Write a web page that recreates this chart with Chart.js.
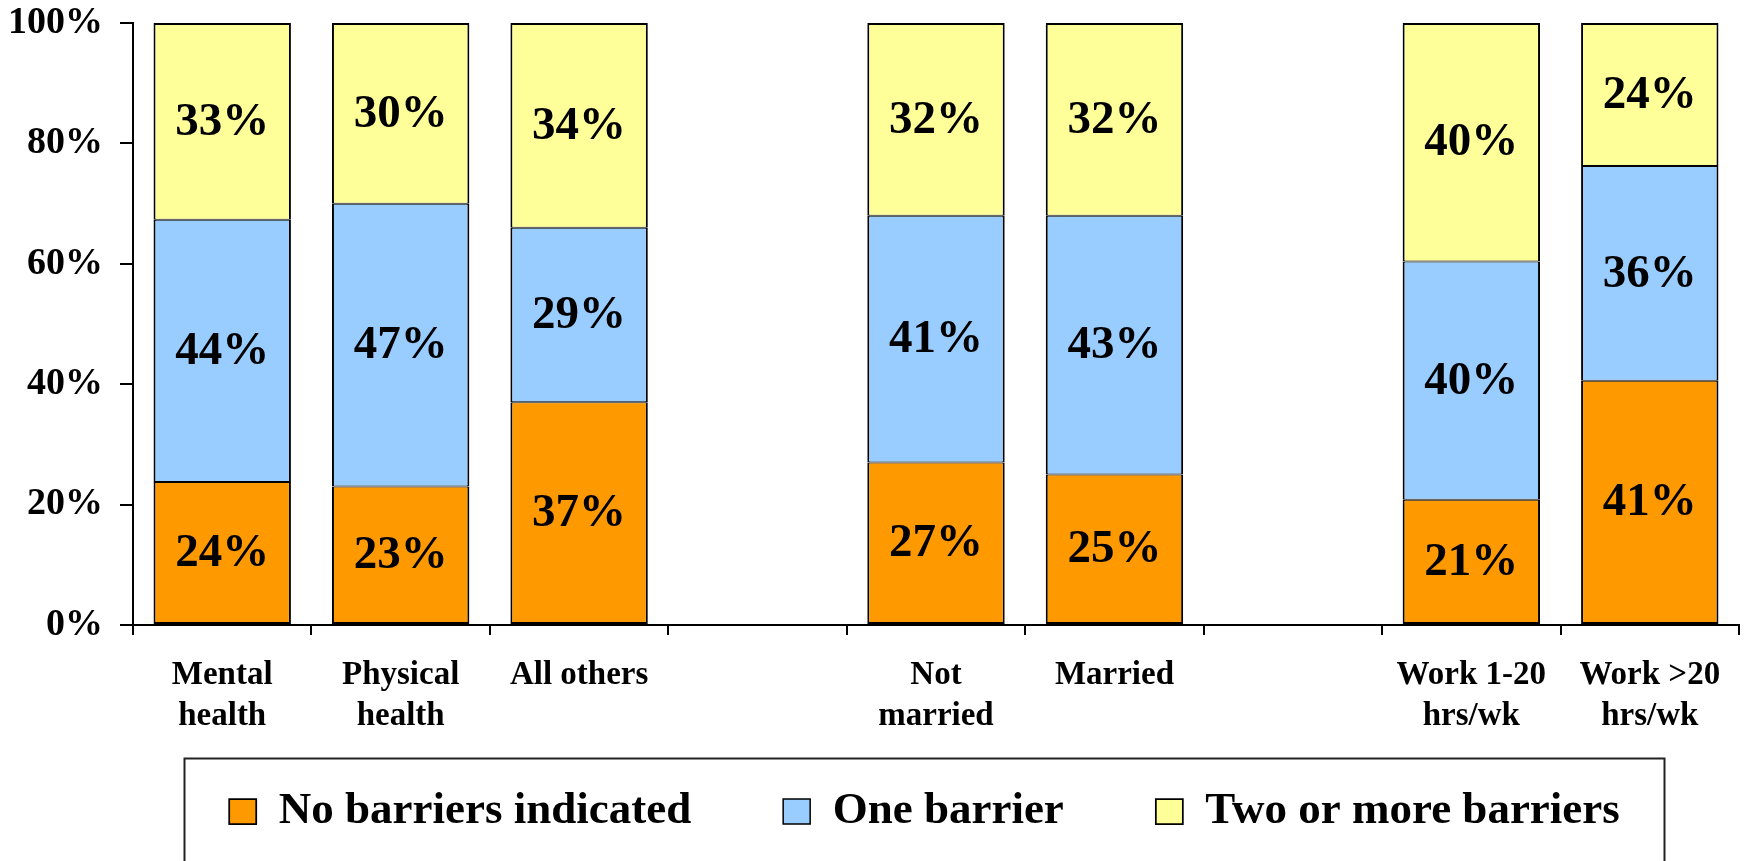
<!DOCTYPE html>
<html>
<head>
<meta charset="utf-8">
<title>Barriers by group</title>
<script src="https://cdn.jsdelivr.net/npm/chart.js@4/dist/chart.umd.min.js"></script>
<style>
    html, body { margin: 0; padding: 0; background: #ffffff; }
    #wrap { width: 1747px; height: 861px; }
</style>
</head>
<body>
<div id="wrap">
    <canvas id="barrierChart" width="1747" height="861"></canvas>
</div>

<script>
// --------------------
// Data (percent labels as printed on the bars)
// --------------------
const categories = [
    ["Mental", "health"],
    ["Physical", "health"],
    "All others",
    "",
    ["Not", "married"],
    "Married",
    "",
    ["Work 1-20", "hrs/wk"],
    ["Work >20", "hrs/wk"]
];

const seriesNames = ["No barriers indicated", "One barrier", "Two or more barriers"];

const noBarriers = [24, 23, 37, null, 27, 25, null, 21, 41];
const oneBarrier = [44, 47, 29, null, 41, 43, null, 40, 36];
const twoOrMore = [33, 30, 34, null, 32, 32, null, 40, 24];

const yTicks = [0, 20, 40, 60, 80, 100];

const colors = ["#FF9900", "#99CCFF", "#FFFF99"];
const FONT = "'Liberation Serif', 'Times New Roman', serif";

// --------------------
// 100% stacked: scale each column to its own total
// --------------------
const seriesPct = [noBarriers, oneBarrier, twoOrMore];

function toShare(values) {
    return values.map((v, i) => {
        if (v === null) return null;
        const total = seriesPct.reduce((s, arr) => s + arr[i], 0);
        return v / total * 100;
    });
}

// borders: 2px outline, 2px line between stacked segments
const borders = [
    { top: 1, bottom: 2, left: 2, right: 2 },
    { top: 1, bottom: 1, left: 2, right: 2 },
    { top: 2, bottom: 1, left: 2, right: 2 }
];

// --------------------
// Plugins
// --------------------
const LEGEND_SHIFT = 50;
const LEGEND_FONT = 45;

const barLabels = {
    id: "barLabels",
    afterDatasetsDraw(chart) {
        const ctx = chart.ctx;
        ctx.save();
        ctx.font = "bold 47px " + FONT;
        ctx.fillStyle = "#000";
        ctx.textAlign = "center";
        ctx.textBaseline = "middle";
        chart.data.datasets.forEach((ds, i) => {
            const meta = chart.getDatasetMeta(i);
            meta.data.forEach((bar, j) => {
                const v = seriesPct[i][j];
                if (v === null) return;
                ctx.fillText(v + "%", bar.x, (bar.y + bar.base) / 2 + 1);
            });
        });
        ctx.restore();
    }
};

const legendFrame = {
    id: "legendFrame",
    afterLayout(chart) {
        // legend sits a little right of the canvas centre
        chart.legend.left += LEGEND_SHIFT;
        chart.legend.right += LEGEND_SHIFT;
        // let the two-line category labels run below the (short) x scale box
        chart.scales.x.bottom += 90;
    },
    afterDraw(chart) {
        const lg = chart.legend;
        const ctx = chart.ctx;
        const cx = (lg.left + lg.right) / 2;
        const midY = lg.top + lg.options.labels.padding + LEGEND_FONT / 2;
        ctx.save();
        ctx.strokeStyle = "#222";
        ctx.lineWidth = 2;
        ctx.strokeRect(cx - 740, midY - 53, 1480, 200);
        ctx.restore();
    }
};

// --------------------
// Chart
// --------------------
Chart.defaults.font.family = FONT;
Chart.defaults.color = "#000";

const ctx = document.getElementById("barrierChart").getContext("2d");

new Chart(ctx, {
    type: "bar",
    data: {
        labels: categories,
        datasets: seriesNames.map((name, i) => ({
            label: name,
            data: toShare(seriesPct[i]),
            backgroundColor: colors[i],
            borderColor: "#000",
            borderWidth: borders[i],
            borderSkipped: false,
            barPercentage: 0.77,
            categoryPercentage: 1.0
        }))
    },
    options: {
        responsive: false,
        animation: false,
        layout: {
            padding: { top: 0, left: 10, right: 8, bottom: 17 }
        },
        plugins: {
            tooltip: { enabled: false },
            legend: {
                position: "bottom",
                labels: {
                    font: { size: LEGEND_FONT, weight: "bold" },
                    color: "#000",
                    boxWidth: 27,
                    boxHeight: 25,
                    padding: 92
                }
            }
        },
        scales: {
            x: {
                stacked: true,
                border: { display: true, color: "#000", width: 2 },
                grid: {
                    offset: true,
                    drawOnChartArea: false,
                    drawTicks: true,
                    tickLength: 10,
                    color: "#000",
                    lineWidth: 2
                },
                ticks: {
                    font: { size: 33, weight: "bold", lineHeight: 1.25 },
                    color: "#000",
                    padding: 20,
                    maxRotation: 0,
                    autoSkip: false
                },
                afterFit(scale) {
                    scale.height = 72;
                }
            },
            y: {
                stacked: true,
                min: 0,
                max: 100,
                border: { display: true, color: "#000", width: 2 },
                grid: {
                    drawOnChartArea: false,
                    drawTicks: true,
                    tickLength: 13,
                    color: "#000",
                    lineWidth: 2
                },
                afterBuildTicks(scale) {
                    scale.ticks = yTicks.map(v => ({ value: v }));
                },
                afterFit(scale) {
                    scale.width = 123;
                },
                ticks: {
                    // small lineHeight keeps the top margin tight (single-line labels)
                    font: { size: 38, weight: "bold", lineHeight: 0.32 },
                    color: "#000",
                    padding: 17,
                    callback: v => v + "%"
                }
            }
        }
    },
    plugins: [barLabels, legendFrame]
});
</script>
</body>
</html>
